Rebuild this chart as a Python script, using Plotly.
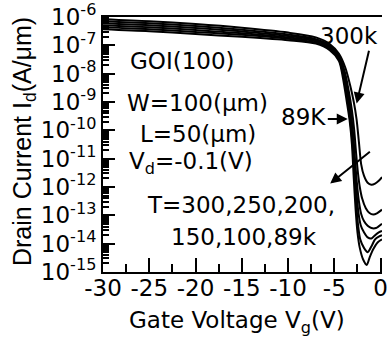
import numpy as np
import plotly.graph_objects as go

# Gate voltage sweeps (V) and log10 of drain current (A/um) per temperature
vg_300 = [-30, -25, -20, -15, -10, -7, -5.5, -4.5, -3.8, -3.3, -2.9, -2.6, -2.35, -2.1, -1.8, -1.4, -1.0, -0.6, -0.2, 0.15]
logid_300 = [-6.08, -6.15, -6.25, -6.38, -6.55, -6.72, -6.95, -7.3, -7.8, -8.4, -9.0, -9.6, -10.4, -11.2, -11.6, -11.85, -11.92, -11.88, -11.78, -11.65]

vg_250 = [-30, -25, -20, -15, -10, -7, -5.5, -4.5, -3.9, -3.45, -3.1, -2.85, -2.65, -2.45, -2.25, -2.0, -1.6, -1.2, -0.8, -0.4, 0.15]
logid_250 = [-6.15, -6.22, -6.32, -6.45, -6.62, -6.78, -7.0, -7.38, -7.9, -8.6, -9.3, -10.0, -10.8, -11.5, -12.0, -12.4, -12.75, -12.92, -12.97, -12.93, -12.8]

vg_200 = [-30, -25, -20, -15, -10, -7, -5.5, -4.5, -3.95, -3.5, -3.2, -2.95, -2.75, -2.55, -2.35, -2.1, -1.8, -1.4, -1.0, -0.5, 0.15]
logid_200 = [-6.22, -6.29, -6.39, -6.51, -6.67, -6.82, -7.05, -7.42, -7.95, -8.7, -9.4, -10.2, -11.1, -11.9, -12.5, -12.95, -13.2, -13.37, -13.45, -13.45, -13.3]

vg_150 = [-30, -25, -20, -15, -10, -7, -5.5, -4.5, -4.0, -3.55, -3.25, -3.0, -2.8, -2.6, -2.4, -2.15, -1.8, -1.4, -1.0, -0.6, -0.2, 0.15]
logid_150 = [-6.29, -6.36, -6.46, -6.57, -6.72, -6.86, -7.09, -7.46, -8.0, -8.8, -9.5, -10.3, -11.3, -12.2, -12.9, -13.35, -13.6, -13.78, -13.82, -13.7, -13.6, -13.55]

vg_100 = [-30, -25, -20, -15, -10, -7, -5.5, -4.5, -4.05, -3.6, -3.3, -3.05, -2.85, -2.65, -2.45, -2.2, -1.8, -1.4, -1.0, -0.6, -0.2, 0.15]
logid_100 = [-6.36, -6.43, -6.53, -6.63, -6.77, -6.9, -7.13, -7.5, -8.05, -8.9, -9.6, -10.4, -11.5, -12.5, -13.3, -13.85, -14.15, -14.3, -14.1, -13.85, -13.75, -13.7]

vg_89 = [-30, -25, -20, -15, -10, -7, -5.5, -4.5, -4.1, -3.65, -3.35, -3.1, -2.9, -2.7, -2.5, -2.25, -1.9, -1.5, -1.2, -0.8, -0.3, 0.15]
logid_89 = [-6.43, -6.5, -6.6, -6.7, -6.82, -6.94, -7.17, -7.55, -8.1, -9.0, -9.65, -10.5, -11.7, -12.8, -13.6, -14.15, -14.55, -14.75, -14.5, -14.2, -13.95, -13.85]

series = [
    ("300K", vg_300, logid_300),
    ("250K", vg_250, logid_250),
    ("200K", vg_200, logid_200),
    ("150K", vg_150, logid_150),
    ("100K", vg_100, logid_100),
    ("89K", vg_89, logid_89),
]

# Axis ticks
x_major = [-30, -25, -20, -15, -10, -5, 0]
x_major_text = ["-30", "-25", "-20", "-15", "-10", "-5", "0"]
x_minor = [-27.5, -22.5, -17.5, -12.5, -7.5, -2.5]
y_exponents = [-15, -14, -13, -12, -11, -10, -9, -8, -7, -6]

HFONT = "DejaVu Sans"
VFONT = "Arial, Liberation Sans"

fig = go.Figure()
for name, vg, logid in series:
    fig.add_trace(go.Scatter(
        x=vg, y=np.power(10.0, logid), mode="lines", name=name,
        line=dict(color="black", width=2, shape="spline", smoothing=0.8),
        showlegend=False,
    ))

y_major = [10.0 ** e for e in y_exponents]
y_major_text = ["10<sup>%d</sup>" % e for e in y_exponents]
y_minor = [k * 10.0 ** e for e in y_exponents[:-1] for k in range(2, 10)]

fig.update_xaxes(
    range=[-30, 0.15], showgrid=False, zeroline=False,
    showline=True, linecolor="black", linewidth=2, mirror=True,
    ticks="inside", ticklen=14, tickwidth=2, tickcolor="black",
    tickvals=x_major, ticktext=x_major_text,
    tickfont=dict(family=HFONT, size=23, color="black"),
    ticklabeloverflow="allow", ticklabelstandoff=-6,
    minor=dict(tickvals=x_minor, ticks="inside", ticklen=8, tickwidth=2, tickcolor="black"),
)
fig.update_yaxes(
    type="log", range=[-15.001, -5.999], showgrid=False, zeroline=False,
    showline=True, linecolor="black", linewidth=2, mirror=False,
    ticks="inside", ticklen=12, tickwidth=2, tickcolor="black",
    tickvals=y_major, ticktext=y_major_text,
    tickfont=dict(family=HFONT, size=23, color="black"),
    ticklabeloverflow="allow",
    minor=dict(tickvals=y_minor, ticks="inside", ticklen=6, tickwidth=1.5, tickcolor="black"),
)

def label(text, x, y, size=23, family=HFONT, angle=0):
    fig.add_annotation(text=text, xref="paper", yref="paper", x=x, y=y,
                       xanchor="center", yanchor="middle", showarrow=False,
                       textangle=angle, font=dict(family=family, size=size, color="black"))

label("GOI(100)", 0.284, 0.827)
label("W=100(μm)", 0.337, 0.662)
label("L=50(μm)", 0.340, 0.542)
label("V<sub>d</sub>=-0.1(V)", 0.316, 0.427)
label("T=300,250,200,", 0.495, 0.262)
label("150,100,89k", 0.505, 0.138)
label("300k", 0.881, 0.927)
label("89K", 0.719, 0.608)

label("Gate Voltage V<sub>g</sub>(V)", 0.481, -0.195, size=23)
label("Drain Current I<sub>d</sub>(A/μm)", -0.281, 0.512, size=25, family=VFONT, angle=-90)

def arrow(x_head, y_head, x_tail, y_tail):
    fig.add_annotation(text="", x=x_head, y=y_head, ax=x_tail, ay=y_tail,
                       xref="x", yref="y", axref="x", ayref="y",
                       showarrow=True, arrowhead=2, arrowsize=1.1, arrowwidth=2,
                       arrowcolor="black")

arrow(-3.55, -9.6, -5.87, -9.6)
arrow(-2.59, -9.05, -1.22, -7.14)
arrow(-5.45, -11.88, -1.0, -10.71)

fig.update_layout(
    width=388, height=341,
    margin=dict(l=103, r=0, t=12, b=69),
    paper_bgcolor="white", plot_bgcolor="white",
)

fig.write_html("out.html")
